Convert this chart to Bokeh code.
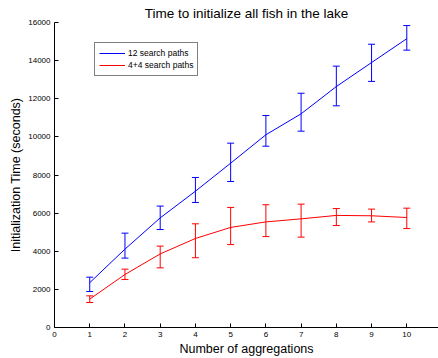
from bokeh.plotting import figure
from bokeh.models import Range1d, Whisker, ColumnDataSource, TeeHead, Legend, LegendItem, FixedTicker
from bokeh.embed import file_html
from bokeh.resources import INLINE

aggregations = [1, 2, 3, 4, 5, 6, 7, 8, 9, 10]
paths12_mean = [2350, 4110, 5750, 7150, 8620, 10110, 11210, 12640, 13900, 15150]
paths12_upper = [2640, 4950, 6370, 7870, 9670, 11120, 12290, 13710, 14860, 15840]
paths12_lower = [1890, 3640, 5140, 6560, 7660, 9510, 10300, 11630, 12910, 14550]
paths44_mean = [1490, 2780, 3860, 4670, 5250, 5540, 5700, 5880, 5860, 5770]
paths44_upper = [1660, 3060, 4270, 5440, 6300, 6440, 6470, 6240, 6210, 6260]
paths44_lower = [1310, 2520, 3130, 3660, 4350, 4770, 4740, 5350, 5540, 5190]
x_ticks = [0, 1, 2, 3, 4, 5, 6, 7, 8, 9, 10, 11]
y_ticks = [0, 2000, 4000, 6000, 8000, 10000, 12000, 14000, 16000]

FONT = "Liberation Sans"

p = figure(width=438, height=358, output_backend="svg", toolbar_location=None,
           x_range=Range1d(0, 10.9), y_range=Range1d(0, 16000),
           min_border_left=54, min_border_right=0, min_border_top=22, min_border_bottom=31,
           title="Time to initialize all fish in the lake")
p.title.align = "center"
p.title.text_font = FONT
p.title.text_font_size = "13.5px"
p.title.text_font_style = "normal"
p.title.text_color = "#000000"
p.title.standoff = 3
p.title.offset = 0

p.outline_line_color = None
p.xgrid.visible = False
p.ygrid.visible = False

for ax in (p.xaxis[0], p.yaxis[0]):
    ax.major_tick_in = 4
    ax.major_tick_out = 0
    ax.minor_tick_in = 0
    ax.minor_tick_out = 0
    ax.major_label_text_font = FONT
    ax.major_label_text_font_size = "8px"
    ax.major_label_text_color = "#000000"
    ax.axis_label_text_font = FONT
    ax.axis_label_text_font_size = "12.5px"
    ax.axis_label_text_font_style = "normal"
    ax.axis_label_text_color = "#000000"
    ax.axis_line_color = "#000000"
    ax.major_tick_line_color = "#000000"
    ax.major_label_standoff = 4
    ax.axis_label_standoff = 2

p.xaxis.ticker = FixedTicker(ticks=x_ticks)
p.yaxis.ticker = FixedTicker(ticks=y_ticks)
p.xaxis.axis_label = "Number of aggregations"
p.yaxis.axis_label = "Initialization Time (seconds)"

src12 = ColumnDataSource(dict(x=aggregations, y=paths12_mean, up=paths12_upper, lo=paths12_lower))
src44 = ColumnDataSource(dict(x=aggregations, y=paths44_mean, up=paths44_upper, lo=paths44_lower))

r12 = p.line("x", "y", source=src12, line_color="#0000ff", line_width=1)
r44 = p.line("x", "y", source=src44, line_color="#ff0000", line_width=1)

for src, col in ((src12, "#0000ff"), (src44, "#ff0000")):
    w = Whisker(base="x", upper="up", lower="lo", source=src, line_color=col, line_width=1,
                upper_head=TeeHead(size=7, line_color=col, line_width=1),
                lower_head=TeeHead(size=7, line_color=col, line_width=1))
    p.add_layout(w)

legend = Legend(items=[LegendItem(label="12 search paths", renderers=[r12]),
                       LegendItem(label="4+4 search paths", renderers=[r44])],
                location=(40, 251))
legend.label_text_font = FONT
legend.label_text_font_size = "8.5px"
legend.label_text_color = "#000000"
legend.border_line_color = "#000000"
legend.border_line_width = 1
legend.background_fill_alpha = 1
legend.glyph_width = 26
legend.glyph_height = 12
legend.label_height = 12
legend.spacing = 0
legend.padding = 4
legend.margin = 0
legend.label_standoff = 3
p.add_layout(legend)

open("out.html", "w").write(file_html(p, INLINE))
